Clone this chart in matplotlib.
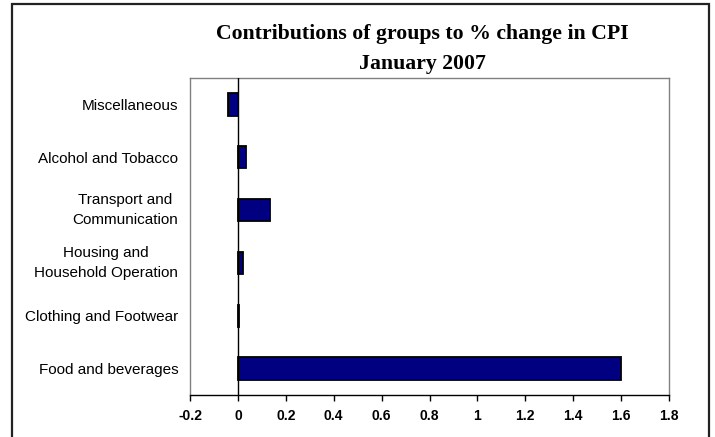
import matplotlib
matplotlib.use('Agg')
import matplotlib.pyplot as plt
from matplotlib.patches import Rectangle

CATEGORIES = [
    'Food and beverages',
    'Clothing and Footwear',
    'Housing and\nHousehold Operation',
    'Transport and\nCommunication',
    'Alcohol and Tobacco',
    'Miscellaneous',
]
CONTRIBUTIONS = [1.6, 0.003, 0.02, 0.135, 0.035, -0.04]
X_TICKS = [-0.2, 0, 0.2, 0.4, 0.6, 0.8, 1, 1.2, 1.4, 1.6, 1.8]
X_TICK_LABELS = ['-0.2', '0', '0.2', '0.4', '0.6', '0.8', '1', '1.2', '1.4', '1.6', '1.8']

TITLE = 'Contributions of groups to % change in CPI\nJanuary 2007'

BAR_COLOUR = '#000080'
FRAME_GREY = '#808080'

W, H = 715, 437


def main() -> None:
    fig = plt.figure(figsize=(W / 100, H / 100), dpi=100)
    fig.patch.set_facecolor('white')

    # outer chart border (bottom runs off the picture)
    fig.patches.append(Rectangle((12 / W, -0.05), (709 - 12) / W, 1.05 - 4 / H,
                                 transform=fig.transFigure, fill=False,
                                 edgecolor='#222222', linewidth=1.6))

    ax = fig.add_axes([190 / W, (H - 395) / H, (669 - 190) / W, (395 - 78) / H])
    positions = list(range(len(CATEGORIES)))
    ax.barh(positions, CONTRIBUTIONS, height=0.42, color=BAR_COLOUR,
            edgecolor='black', linewidth=1.3, zorder=3)
    ax.axvline(0, color='black', linewidth=1.0, zorder=4)

    ax.set_xlim(-0.2, 1.8)
    ax.set_ylim(-0.5, len(CATEGORIES) - 0.5)
    ax.set_xticks(X_TICKS)
    ax.set_xticklabels(X_TICK_LABELS, fontfamily='Liberation Sans',
                       fontweight='bold', fontsize=10)
    ax.set_yticks(positions)
    ax.set_yticklabels(CATEGORIES, fontfamily='Liberation Sans', fontsize=11)
    for label in ax.get_yticklabels():
        label.set_multialignment('center')
        label.set_linespacing(1.5)
        if '\n' in label.get_text():
            label.set_verticalalignment('center')

    ax.tick_params(axis='x', direction='out', length=4, width=1, pad=6, colors='black')
    ax.tick_params(axis='y', length=0, pad=8.5)

    for side in ('top', 'left', 'right'):
        ax.spines[side].set_color(FRAME_GREY)
        ax.spines[side].set_linewidth(1.0)
    ax.spines['bottom'].set_color('black')
    ax.spines['bottom'].set_linewidth(1.0)

    fig.text(422 / W, 1 - 49 / H, TITLE, ha='center', va='center',
             fontfamily='Liberation Serif', fontweight='bold', fontsize=15.7,
             linespacing=1.6)

    fig.savefig('out.png', dpi=100)


if __name__ == '__main__':
    main()
